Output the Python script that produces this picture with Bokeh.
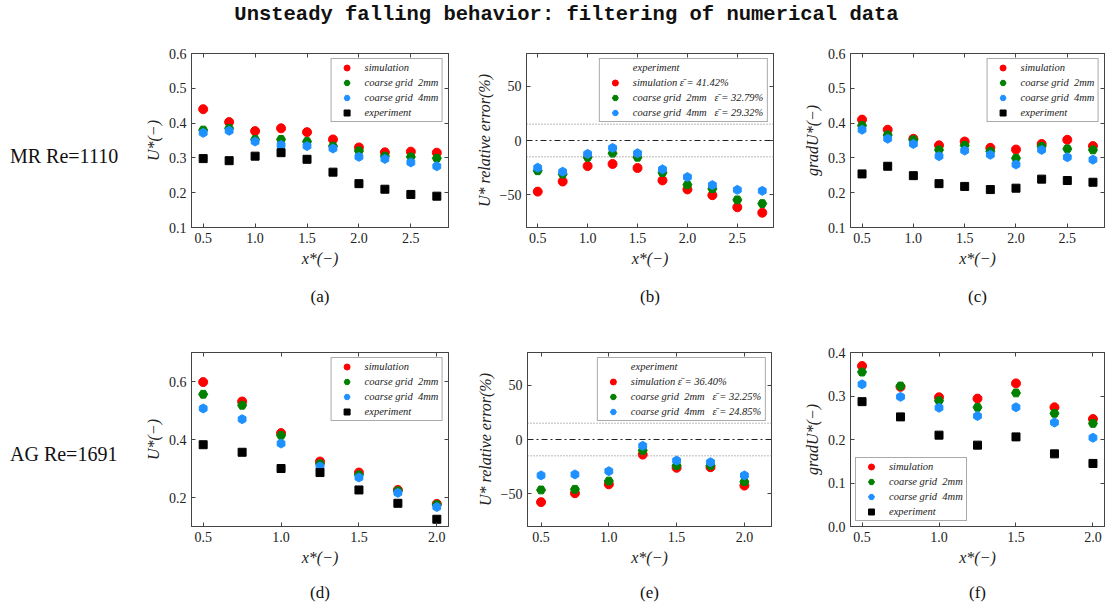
from bokeh.plotting import figure
from bokeh.models import (Range1d, FixedTicker, LinearAxis, Span, Legend, LegendItem, Div,
                          ColumnDataSource, PrintfTickFormatter)
from bokeh.layouts import row, column
from bokeh.embed import file_html
from bokeh.resources import INLINE
import math

# ---------------- data ----------------
x_mr = [0.5, 0.75, 1.0, 1.25, 1.5, 1.75, 2.0, 2.25, 2.5, 2.75]
a_sim = [0.440, 0.403, 0.377, 0.385, 0.374, 0.353, 0.330, 0.316, 0.318, 0.315]
a_c2 = [0.380, 0.385, 0.353, 0.353, 0.347, 0.334, 0.320, 0.305, 0.303, 0.299]
a_c4 = [0.372, 0.378, 0.347, 0.337, 0.334, 0.327, 0.303, 0.297, 0.287, 0.276]
a_exp = [0.298, 0.292, 0.305, 0.315, 0.296, 0.259, 0.226, 0.210, 0.195, 0.190]

b_sim = [-47.0, -37.7, -23.5, -21.6, -25.3, -36.7, -45.0, -50.3, -61.4, -66.4]
b_c2 = [-27.8, -30.9, -15.4, -11.7, -15.4, -29.6, -40.7, -44.4, -54.6, -58.0]
b_c4 = [-25.0, -28.7, -12.3, -6.8, -11.7, -26.5, -33.6, -41.0, -45.4, -46.3]

c_sim = [0.410, 0.381, 0.355, 0.336, 0.347, 0.329, 0.324, 0.340, 0.352, 0.334]
c_c2 = [0.393, 0.366, 0.352, 0.323, 0.336, 0.319, 0.299, 0.333, 0.326, 0.323]
c_c4 = [0.381, 0.355, 0.340, 0.305, 0.321, 0.309, 0.281, 0.323, 0.302, 0.295]
c_exp = [0.254, 0.276, 0.249, 0.226, 0.218, 0.209, 0.213, 0.239, 0.235, 0.230]

x_ag = [0.5, 0.75, 1.0, 1.25, 1.5, 1.75, 2.0]
d_sim = [0.598, 0.531, 0.422, 0.324, 0.286, 0.226, 0.178]
d_c2 = [0.556, 0.518, 0.414, 0.316, 0.278, 0.223, 0.175]
d_c4 = [0.507, 0.470, 0.386, 0.307, 0.269, 0.216, 0.167]
d_exp = [0.382, 0.356, 0.300, 0.286, 0.226, 0.180, 0.125]

e_sim = [-57.6, -49.4, -41.2, -13.9, -26.0, -25.5, -42.4]
e_c2 = [-46.4, -45.8, -38.2, -10.0, -23.9, -23.9, -38.8]
e_c4 = [-33.0, -32.1, -29.1, -5.8, -19.4, -20.9, -33.0]

f_sim = [0.369, 0.321, 0.297, 0.294, 0.329, 0.274, 0.247]
f_c2 = [0.355, 0.323, 0.289, 0.274, 0.307, 0.260, 0.237]
f_c4 = [0.327, 0.298, 0.273, 0.254, 0.274, 0.239, 0.204]
f_exp = [0.287, 0.252, 0.210, 0.187, 0.206, 0.167, 0.145]

xt_mr = [0.5, 1.0, 1.5, 2.0, 2.5]
xt_ag = [0.5, 1.0, 1.5, 2.0]
yt_u = [0.1, 0.2, 0.3, 0.4, 0.5, 0.6]
yt_err = [-50, 0, 50]
yt_d = [0.2, 0.4, 0.6]
yt_f = [0.0, 0.1, 0.2, 0.3, 0.4]

err_mr = ["41.42%", "32.79%", "29.32%"]
err_ag = ["36.40%", "32.25%", "24.85%"]

NB = "\u00a0"
lab_sim = "simulation"
lab_c2 = "coarse grid" + NB * 2 + "2mm"
lab_c4 = "coarse grid" + NB * 2 + "4mm"
lab_exp = "experiment"

TITLE = "Unsteady falling behavior: filtering of numerical data"

# ---------------- styles ----------------
FONT = "Liberation Serif"
FRAME = "#444444"
RED, GREEN, BLUE, BLACK = "#ff0000", "#008000", "#1e90ff", "#000000"


def style_axis(ax, ticks, fmt=None, show_labels=True):
    ax.ticker = FixedTicker(ticks=ticks)
    ax.major_tick_in = 4
    ax.major_tick_out = 0
    ax.minor_tick_line_color = None
    ax.axis_line_color = FRAME
    ax.major_tick_line_color = FRAME
    if show_labels:
        if fmt:
            ax.formatter = PrintfTickFormatter(format=fmt)
        ax.major_label_text_font = FONT
        ax.major_label_text_font_size = "14px"
        ax.major_label_text_color = "#222222"
        ax.major_label_standoff = 5
        ax.axis_label_text_font = FONT
        ax.axis_label_text_font_style = "italic"
        ax.axis_label_text_font_size = "16px"
        ax.axis_label_text_color = "#222222"
        ax.axis_label_standoff = 4
    else:
        ax.major_label_text_font_size = "1px"
        ax.major_label_text_alpha = 0
        ax.major_label_standoff = 0


def panel(xs, series, xr, yr, xticks, yticks, yfmt, ylabel, fw, fh, bl, br, bt, bb,
          leg_loc, label, label_standoff, err=False, yoverrides=None):
    p = figure(frame_width=fw, frame_height=fh,
               x_range=Range1d(*xr), y_range=Range1d(*yr),
               min_border_left=bl, min_border_right=br,
               min_border_top=bt, min_border_bottom=bb,
               output_backend="svg", toolbar_location=None,
               background_fill_color="white", border_fill_color="white")
    p.xgrid.visible = False
    p.ygrid.visible = False
    p.outline_line_color = FRAME
    style_axis(p.xaxis[0], xticks, "%.1f")
    style_axis(p.yaxis[0], yticks, yfmt)
    p.xaxis[0].axis_label = "x*(\u2212)"
    p.yaxis[0].axis_label = ylabel
    if yoverrides:
        p.yaxis[0].major_label_overrides = yoverrides
    top = LinearAxis()
    style_axis(top, xticks, show_labels=False)
    p.add_layout(top, "above")
    right = LinearAxis()
    style_axis(right, yticks, show_labels=False)
    p.add_layout(right, "right")

    lab = LinearAxis(ticker=FixedTicker(ticks=[]), axis_line_color=None,
                     major_tick_line_color=None, minor_tick_line_color=None,
                     major_label_text_font_size="1px", major_label_text_alpha=0,
                     major_label_standoff=0,
                     axis_label=label, axis_label_standoff=label_standoff,
                     axis_label_text_font=FONT, axis_label_text_font_style="normal",
                     axis_label_text_font_size="17px", axis_label_text_color="#111111")
    p.add_layout(lab, "below")

    items = []
    if err:
        for loc, col, dash in [(15, "#777777", "1 2"), (-15, "#777777", "1 2"), (0, "#222222", "6 3 2 3")]:
            p.add_layout(Span(location=loc, dimension="width", line_color=col,
                              line_dash=dash, line_width=1))
        empty = ColumnDataSource(data=dict(x=[], y=[]))
        rl = p.line("x", "y", source=empty, line_color="#222222", line_dash="6 3 2 3", line_width=1)
        items.append(LegendItem(label=lab_exp + NB, renderers=[rl]))
    for name, vals, marker, color, size, angle in series:
        r = p.scatter(xs, vals, marker=marker, size=size, fill_color=color,
                      line_color=color, angle=angle)
        items.append(LegendItem(label=name + NB, renderers=[r]))
    leg = Legend(items=items, location=leg_loc, margin=5,
                 label_text_font=FONT, label_text_font_style="italic",
                 label_text_font_size="10.5px", label_text_color="#222222",
                 glyph_width=28, glyph_height=15, label_height=12,
                 label_standoff=4, padding=1, spacing=0,
                 border_line_color="#555555", border_line_width=1,
                 background_fill_color="white", background_fill_alpha=1)
    p.add_layout(leg)
    return p


def std_series(sim, c2, c4, exp):
    return [(lab_sim, sim, "circle", RED, 9, 0),
            (lab_c2, c2, "hex", GREEN, 9, 0),
            (lab_c4, c4, "hex", BLUE, 9, math.pi / 6),
            (lab_exp, exp, "square", BLACK, 8, 0)]


def err_series(sim, c2, c4, errs):
    eb = "\u03b5\u0304 = "
    return [(lab_sim + " " + eb + errs[0], sim, "circle", RED, 9, 0),
            (lab_c2 + NB * 3 + eb + errs[1], c2, "hex", GREEN, 9, 0),
            (lab_c4 + NB * 3 + eb + errs[2], c4, "hex", BLUE, 9, math.pi / 6)]


mr_x = (0.3875, 2.8625)
ag_x = (0.425, 2.075)
ovr = {-50: "\u221250"}
ylab_u = "U*(\u2212)"
ylab_e = "U* relative error(%)"
ylab_g = "gradU*(\u2212)"

fa = panel(x_mr, std_series(a_sim, a_c2, a_c4, a_exp), mr_x, (0.1, 0.6), xt_mr, yt_u, "%.1f", ylab_u,
           257, 174, 51, 22, 23, 85, "top_right", "(a)", 17)
fb = panel(x_mr, err_series(b_sim, b_c2, b_c4, err_mr), mr_x, (-80, 80), xt_mr, yt_err, "%d", ylab_e,
           247, 174, 56, 27, 23, 85, "top_right", "(b)", 17, err=True, yoverrides=ovr)
fc = panel(x_mr, std_series(c_sim, c_c2, c_c4, c_exp), mr_x, (0.1, 0.6), xt_mr, yt_u, "%.1f", ylab_g,
           254, 174, 44, 3, 23, 85, "top_right", "(c)", 17)

fd = panel(x_ag, std_series(d_sim, d_c2, d_c4, d_exp), ag_x, (0.1, 0.7), xt_ag, yt_d, "%.1f", ylab_u,
           257, 174, 51, 22, 40, 78, "top_right", "(d)", 14)
fe = panel(x_ag, err_series(e_sim, e_c2, e_c4, err_ag), (0.4, 2.2), (-80, 80), xt_ag, yt_err, "%d", ylab_e,
           244, 174, 57, 29, 40, 78, "top_right", "(e)", 14, err=True, yoverrides=ovr)
ff = panel(x_ag, std_series(f_sim, f_c2, f_c4, f_exp), ag_x, (0.0, 0.4), xt_ag, yt_f, "%.1f", ylab_g,
           254, 174, 44, 3, 40, 78, "bottom_left", "(f)", 14)

title_div = Div(text=('<div style="position:relative;top:0px;left:20px;width:1093px;'
                      'text-align:center;font-family:\'Liberation Mono\';font-weight:bold;'
                      'font-size:20.5px;color:#111;white-space:nowrap">' + TITLE + '</div>'),
                width=1101, height=30, margin=0)


def row_label(txt, top, h):
    return Div(text=('<div style="position:relative;top:%dpx;left:10px;font-family:\'Liberation Serif\';'
                     'font-size:20px;color:#111;white-space:nowrap">%s</div>') % (top, txt),
               width=140, height=h, margin=0)


r1 = row(row_label("MR Re=1110", 112, 282), fa, fb, fc)
r2 = row(row_label("AG Re=1691", 128, 292), fd, fe, ff)
layout = column(title_div, r1, r2)

open("out.html", "w").write(file_html(layout, INLINE))
